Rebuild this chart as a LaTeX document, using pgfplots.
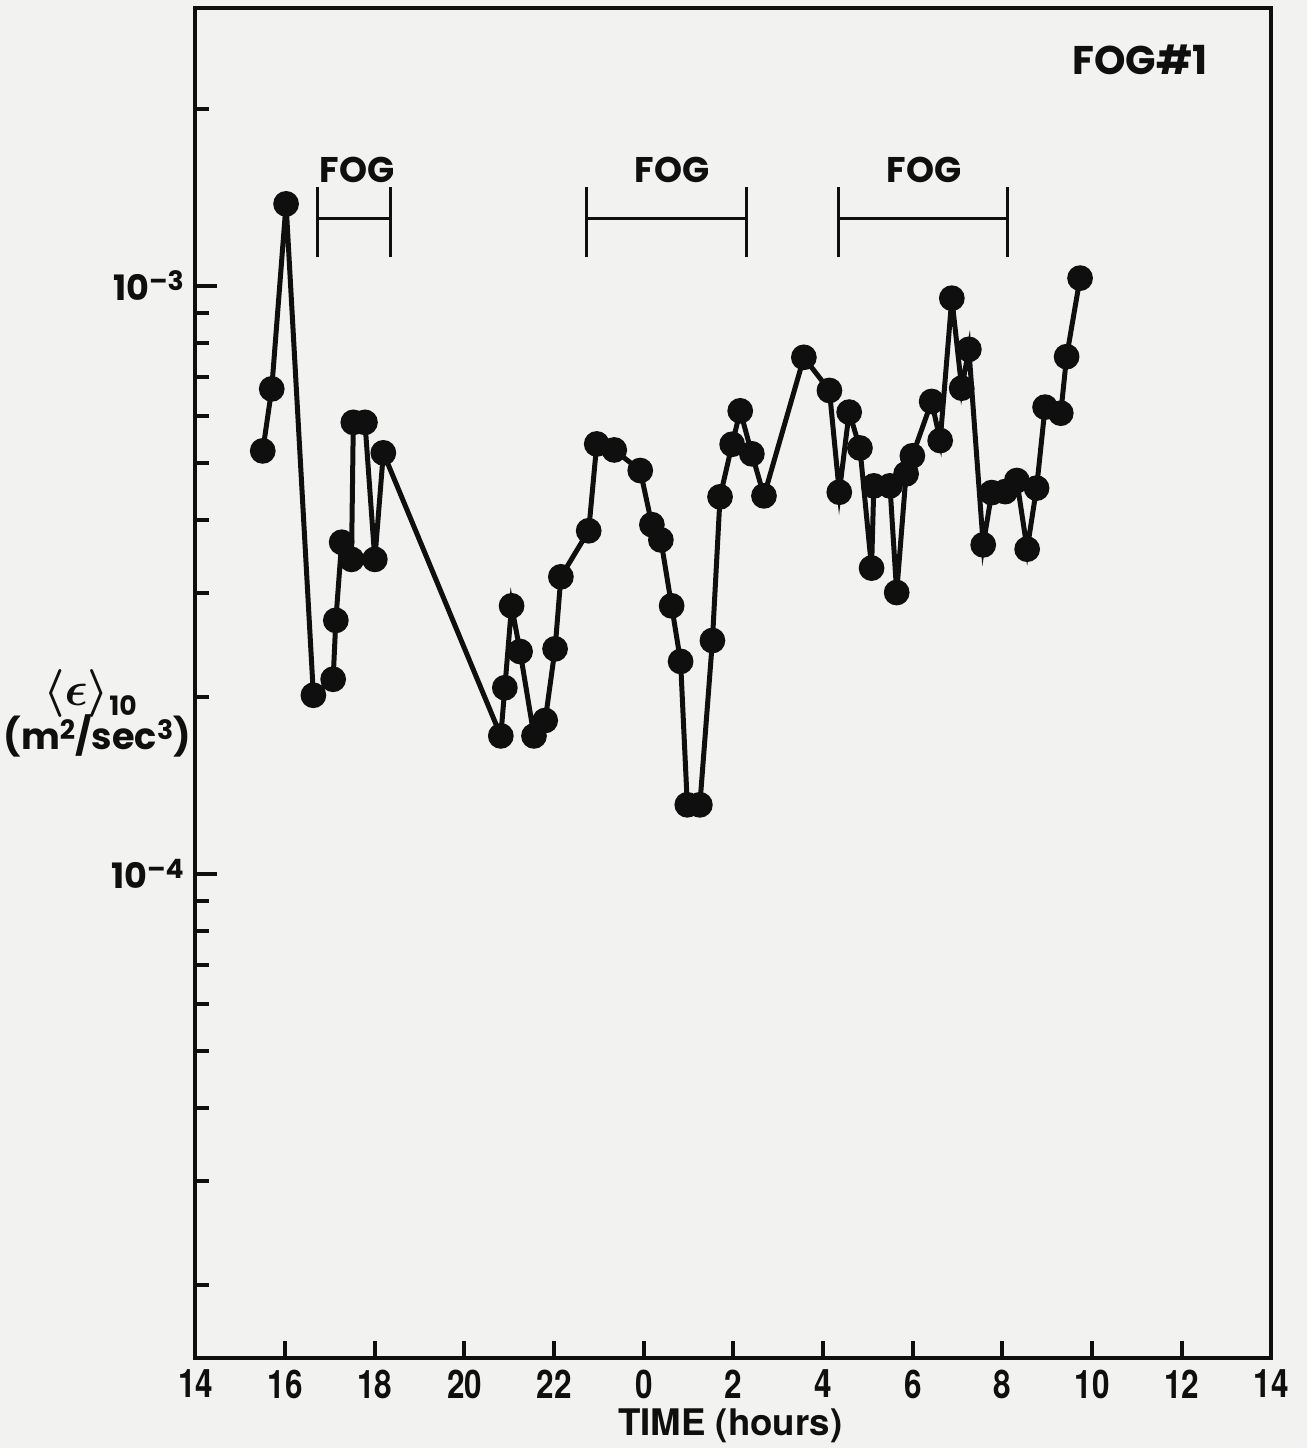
\documentclass[border=0pt]{standalone}
\usepackage{fontspec}
\setmainfont{TeX Gyre Heros}
\newfontfamily\popp{Poppins}
\newfontfamily\cond{TeX Gyre Heros}[FakeStretch=0.8]
\usepackage{bm}
\usepackage{pgfplots}
\pgfplotsset{compat=1.18}
\definecolor{paper}{RGB}{242,242,240}
\definecolor{ink}{RGB}{15,15,15}
\newcommand{\sups}[1]{\raisebox{0.5ex}{\fontsize{8}{8}\selectfont #1}}
\newcommand{\subs}[1]{\raisebox{-0.5ex}{\fontsize{8}{8}\selectfont #1}}
\begin{document}
\begin{tikzpicture}
\fill[paper] (-58.65pt,-27pt) rectangle (333.45pt,407.4pt);
\path[use as bounding box] (-58.65pt,-27pt) rectangle (333.45pt,407.4pt);
\begin{axis}[
  at={(0pt,0pt)}, anchor=south west,
  scale only axis, width=322.8pt, height=405pt,
  xmin=14, xmax=38, ymin=1.5e-5, ymax=2.97e-3,
  ymode=log,
  axis line style={line width=1.2pt, ink},
  every tick/.style={line width=1.2pt, ink},
  tick align=inside,
  xtick pos=bottom, ytick pos=left,
  xtick={14,16,...,38},
  xticklabels={14,16,18,20,22,0,2,4,6,8,10,12,14},
  ytick={1e-4,1e-3},
  yticklabels={10\sups{–4},10\sups{–3}},
  minor ytick={2e-5,3e-5,4e-5,5e-5,6e-5,7e-5,8e-5,9e-5,2e-4,3e-4,4e-4,5e-4,6e-4,7e-4,8e-4,9e-4,2e-3},
  major tick length=6.5pt, minor tick length=4pt,
  xtick style={/pgfplots/major tick length=5pt},
  xticklabel style={font=\cond\bfseries\fontsize{11.8}{11.8}\selectfont, text=ink},
  yticklabel style={font=\popp\bfseries\fontsize{10.5}{10.5}\selectfont, text=ink},
  clip=false,
]
\addplot[ink, line width=1.5pt, mark=*, mark size=3.1pt] coordinates {
(15.50,5.24e-4) (15.70,6.68e-4) (16.02,1.379e-3) (16.63,2.012e-4)
(17.07,2.142e-4) (17.13,2.698e-4) (17.26,3.664e-4) (17.48,3.426e-4)
(17.52,5.86e-4) (17.78,5.86e-4) (18.00,3.426e-4) (18.19,5.20e-4)
(20.81,1.716e-4) (20.90,2.072e-4) (21.05,2.856e-4) (21.24,2.388e-4)
(21.55,1.716e-4) (21.80,1.823e-4) (22.02,2.413e-4) (22.15,3.20e-4)
(22.77,3.833e-4) (22.95,5.385e-4) (23.34,5.26e-4) (23.92,4.852e-4)
(24.18,3.925e-4) (24.38,3.698e-4) (24.62,2.856e-4) (24.82,2.297e-4)
(24.97,1.31e-4) (25.25,1.31e-4) (25.53,2.493e-4) (25.70,4.377e-4)
(25.97,5.378e-4) (26.15,6.13e-4) (26.41,5.18e-4) (26.68,4.394e-4)
(27.57,7.56e-4) (28.14,6.64e-4) (28.36,4.457e-4) (28.58,6.10e-4)
(28.82,5.30e-4) (29.08,3.311e-4) (29.13,4.569e-4) (29.49,4.569e-4)
(29.64,3.009e-4) (29.85,4.79e-4) (29.99,5.14e-4) (30.42,6.36e-4)
(30.61,5.457e-4) (30.87,9.53e-4) (31.09,6.70e-4) (31.25,7.80e-4)
(31.57,3.627e-4) (31.76,4.45e-4) (32.06,4.468e-4) (32.32,4.666e-4)
(32.55,3.566e-4) (32.76,4.529e-4) (32.95,6.22e-4) (33.30,6.075e-4)
(33.43,7.58e-4) (33.73,1.031e-3)
};
% fog period bars
\draw[ink, line width=0.9pt] (axis cs:16.717,1.300e-3) -- (axis cs:18.339,1.300e-3);
\draw[ink, line width=0.9pt] (axis cs:16.717,1.12e-3) -- (axis cs:16.717,1.473e-3);
\draw[ink, line width=0.9pt] (axis cs:18.339,1.12e-3) -- (axis cs:18.339,1.473e-3);
\draw[ink, line width=0.9pt] (axis cs:22.711,1.300e-3) -- (axis cs:26.29,1.300e-3);
\draw[ink, line width=0.9pt] (axis cs:22.711,1.12e-3) -- (axis cs:22.711,1.473e-3);
\draw[ink, line width=0.9pt] (axis cs:26.29,1.12e-3) -- (axis cs:26.29,1.473e-3);
\draw[ink, line width=0.9pt] (axis cs:28.35,1.300e-3) -- (axis cs:32.12,1.300e-3);
\draw[ink, line width=0.9pt] (axis cs:28.35,1.12e-3) -- (axis cs:28.35,1.473e-3);
\draw[ink, line width=0.9pt] (axis cs:32.12,1.12e-3) -- (axis cs:32.12,1.473e-3);
\node[font=\popp\bfseries\fontsize{10.7}{10.7}\selectfont, text=ink] at (axis cs:17.6,1.575e-3) {FOG};
\node[font=\popp\bfseries\fontsize{10.7}{10.7}\selectfont, text=ink] at (axis cs:24.63,1.575e-3) {FOG};
\node[font=\popp\bfseries\fontsize{10.7}{10.7}\selectfont, text=ink] at (axis cs:30.25,1.575e-3) {FOG};
\node[font=\popp\bfseries\fontsize{12}{12}\selectfont, text=ink] at (axis cs:35.07,2.42e-3) {FOG\#1};
\node[font=\popp\bfseries\fontsize{11}{11}\selectfont, text=ink] at (rel axis cs:-0.098,0.4926) {{\fontsize{15}{15}\selectfont\ensuremath{\bm{\langle\epsilon\rangle}}}\subs{10}};
\node[font=\popp\bfseries\fontsize{11}{11}\selectfont, text=ink] at (rel axis cs:-0.0914,0.4605) {(m\sups{2}/sec\sups{3})};
\node[font=\bfseries\fontsize{11}{11}\selectfont, text=ink] at (rel axis cs:0.497,-0.05) {TIME (hours)};
\end{axis}
\end{tikzpicture}
\end{document}
